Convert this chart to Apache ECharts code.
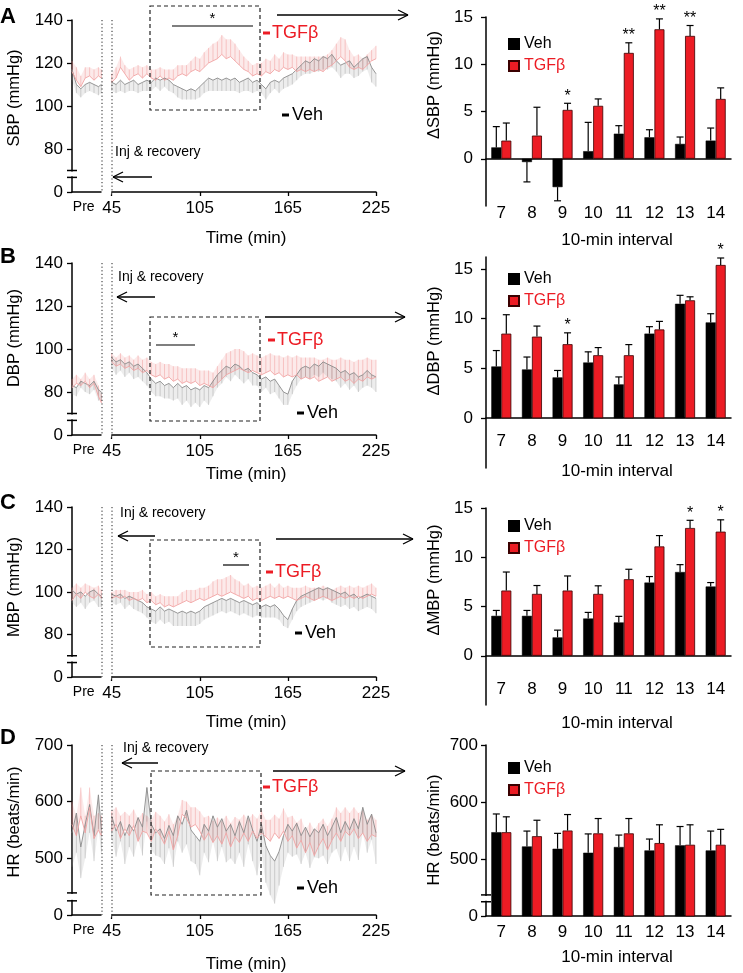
<!DOCTYPE html>
<html><head><meta charset="utf-8">
<script src="https://cdn.jsdelivr.net/npm/echarts@6/dist/echarts.min.js"></script>
<style>html,body{margin:0;padding:0;background:#fff}#c{width:743px;height:973px}</style>
</head><body><div id="c"></div>
<script>
// ---------- DATA ----------
const intervals = ['7','8','9','10','11','12','13','14'];
const preTimes = [18,21,24,27,30,33,36,38];
const mainTimes = []; for (let t = 45; t <= 225; t += 3) mainTimes.push(t);
const timeTickLabels = ['Pre','45','105','165','225'];
const timeTickValues = [26,45,105,165,225];

// A: SBP
const sbpPreTgf = [116,112,109,113,114,112,114,113];
const sbpPreTgfSem = [5,6,5,5,4,5,4,4];
const sbpPreVeh = [117,110,108,110,111,110,109,110];
const sbpPreVehSem = [5,4,4,4,4,4,4,4];
const sbpTgf = [111,113,118,115,112,114,115,113,115,113,112,114,112,113,112,114,115,114,116,117,116,118,120,121,122,124,122,123,121,119,117,116,114,115,114,116,115,117,116,118,117,118,116,117,116,117,116,117,116,118,119,121,123,121,118,117,118,117,119,121,122];
const sbpTgfSem = [4,5,5,4,5,4,4,5,4,4,5,4,5,4,5,5,4,5,5,6,6,7,7,8,8,9,9,8,8,7,6,5,5,5,6,6,6,7,6,7,7,6,7,6,7,6,7,6,7,6,7,8,9,10,8,6,6,5,5,5,6];
const sbpVeh = [111,110,112,110,111,112,110,111,112,111,113,112,113,112,110,109,108,107,108,107,109,111,113,112,113,112,113,112,113,111,112,113,111,112,110,108,111,112,111,113,114,115,117,119,121,120,122,121,123,122,124,121,119,120,121,118,120,122,123,118,115];
const sbpVehSem = [4,4,5,4,4,5,4,4,5,4,4,5,4,5,4,5,5,4,5,4,5,5,6,5,6,5,6,5,6,5,5,6,5,5,4,5,5,4,5,5,5,5,5,5,6,5,6,5,6,5,6,5,6,5,6,5,6,6,6,7,6];
const dSbpVeh = [1.2,-0.35,-3.0,0.8,2.65,2.27,1.57,1.92];
const dSbpVehSem = [2.2,2.1,1.45,3.05,0.85,0.8,0.73,1.33];
const dSbpTgf = [1.92,2.45,5.17,5.6,11.2,13.7,13.0,6.33];
const dSbpTgfSem = [1.86,3.0,0.7,0.73,1.07,1.1,1.1,1.17];
const dSbpStars = ['','','*','','**','**','**',''];

// B: DBP
const dbpPreTgf = [82,84,83,85,82,84,78,75];
const dbpPreTgfSem = [4,4,3,4,4,4,5,4];
const dbpPreVeh = [83,82,85,84,83,85,81,80];
const dbpPreVehSem = [4,4,3,4,4,4,5,4];
const dbpTgf = [94,92,93,91,92,90,91,89,90,88,87,88,86,87,85,86,84,85,84,85,83,84,83,82,84,86,88,89,90,91,90,89,90,89,88,89,90,88,89,87,88,87,88,86,87,86,87,85,86,87,85,86,87,85,86,84,86,85,87,86,87];
const dbpTgfSem = [4,4,5,5,5,5,6,6,6,6,6,6,7,6,7,6,7,6,7,6,7,6,7,7,8,9,10,10,10,9,9,8,8,8,8,8,8,9,8,9,9,9,9,10,9,10,9,10,9,9,10,9,9,10,9,10,9,10,9,9,8];
const dbpVeh = [96,94,95,93,94,92,93,91,89,86,84,85,83,84,82,84,82,83,81,82,81,83,82,85,88,90,92,91,93,92,90,91,89,88,86,87,85,86,83,80,79,85,88,91,92,91,93,92,94,93,92,91,89,90,88,89,87,88,90,88,87];
const dbpVehSem = [5,6,5,6,5,6,6,6,6,6,6,7,6,7,6,7,8,7,8,7,8,7,8,7,6,6,5,6,5,6,6,5,6,5,6,5,6,6,6,6,5,6,5,5,5,5,5,5,5,6,6,6,7,6,7,6,7,6,7,6,7];
const dDbpVeh = [5.2,4.9,4.1,5.6,3.4,8.5,11.5,9.63];
const dDbpVehSem = [1.6,1.25,0.7,1.07,0.75,0.7,0.85,0.87];
const dDbpTgf = [8.5,8.2,7.44,6.33,6.33,8.92,11.85,15.4];
const dDbpTgfSem = [1.9,1.06,1.14,0.77,1.07,0.81,0.35,0.7];
const dDbpStars = ['','','*','','','','','*'];

// C: MBP
const mbpPreTgf = [96,99,97,100,98,97,99,97];
const mbpPreTgfSem = [6,5,5,4,5,5,4,4];
const mbpPreVeh = [101,99,100,98,100,101,99,98];
const mbpPreVehSem = [6,6,5,6,5,5,6,5];
const mbpTgf = [97,98,97,98,96,97,96,97,95,96,94,95,93,94,93,94,95,96,95,96,97,96,97,98,99,98,99,100,99,98,97,98,96,97,96,97,98,97,98,97,98,97,96,97,98,97,96,97,98,97,96,97,98,97,98,97,98,97,98,99,98];
const mbpTgfSem = [3,3,4,3,4,3,4,4,4,4,4,4,5,4,5,4,5,5,6,5,5,6,6,7,7,8,8,8,7,7,6,6,6,6,6,6,6,5,6,5,5,5,6,5,5,5,6,5,5,5,5,5,5,5,5,5,5,5,5,5,4];
const mbpVeh = [99,98,99,97,98,97,96,95,93,92,91,93,91,92,91,90,91,90,91,90,91,93,94,95,96,97,96,97,96,95,96,95,94,95,93,94,93,94,92,89,87,92,96,98,99,100,101,102,101,102,101,100,99,100,98,99,97,98,99,98,97];
const mbpVehSem = [4,4,4,5,4,5,5,5,5,6,6,6,6,6,7,6,7,6,7,6,6,6,6,6,6,6,6,6,6,6,6,6,6,6,5,6,5,6,5,5,4,5,5,5,5,5,5,5,5,5,6,6,6,6,6,6,6,6,6,6,7];
const dMbpVeh = [4.05,4.05,1.86,3.78,3.38,7.43,8.5,7.03];
const dMbpVehSem = [0.55,0.55,0.74,0.62,0.62,0.61,0.75,0.4];
const dMbpTgf = [6.62,6.28,6.62,6.28,7.77,11.1,12.97,12.6];
const dMbpTgfSem = [1.88,0.85,1.48,0.82,1.01,1.1,0.78,1.2];
const dMbpStars = ['','','','','','','*','*'];

// D: HR
const hrPreTgf = [560,540,575,545,590,535,550,540];
const hrPreTgfSem = [40,35,50,30,35,40,30,35];
const hrPreVeh = [545,580,520,560,595,540,612,550];
const hrPreVehSem = [60,70,55,60,50,45,60,40];
const hrTgf = [548,560,535,552,540,558,530,548,545,530,552,540,525,548,515,540,578,570,555,560,548,532,545,528,540,525,545,520,538,528,545,530,548,535,545,538,530,545,535,548,530,540,518,532,510,528,505,522,535,515,532,545,530,548,540,552,535,545,530,542,538];
const hrTgfSem = [35,30,40,30,35,28,40,32,30,38,30,35,40,30,45,35,25,30,35,30,35,40,30,38,32,40,30,42,35,40,32,38,30,35,40,30,38,32,35,40,42,35,45,38,40,35,45,40,35,42,38,45,50,42,40,38,45,40,38,35,30];
const hrVeh = [575,548,565,540,560,548,572,555,625,560,545,552,535,558,540,575,560,585,550,540,530,560,548,575,555,570,548,560,540,565,545,575,550,530,560,522,505,495,512,540,560,548,562,540,555,538,552,545,560,540,555,572,545,565,550,570,552,590,560,578,545];
const hrVehSem = [40,45,35,50,40,45,38,50,60,45,40,50,45,40,55,45,50,60,55,50,60,50,55,45,60,50,55,60,50,55,60,50,55,60,50,65,70,75,60,55,50,45,55,50,45,55,50,45,55,50,45,55,50,45,55,50,55,45,50,45,55];
const dHrVeh = [547,522,518,511,521,515,524,515];
const dHrVehSem = [32,27,27,33,21,20,33,34];
const dHrTgf = [547,540,550,545,545,528,525,525];
const dHrTgfSem = [27,28,28,26,26,32,35,27];
const dHrStars = ['','','','','','','',''];

// ---------- STYLE / LAYOUT ----------
const FONT = '"Liberation Sans", Arial, Helvetica, sans-serif';
const RED = '#ec1c24';
const panels = [
 {letter:'A', yName:'SBP (mmHg)', dName:'\u0394SBP (mmHg)',
  preTgf:sbpPreTgf, preTgfSem:sbpPreTgfSem, preVeh:sbpPreVeh, preVehSem:sbpPreVehSem,
  tgf:sbpTgf, tgfSem:sbpTgfSem, veh:sbpVeh, vehSem:sbpVehSem,
  bVeh:dSbpVeh, bVehSem:dSbpVehSem, bTgf:dSbpTgf, bTgfSem:dSbpTgfSem, stars:dSbpStars,
  lMin:60, lMax:140, lInt:20, lTop:20, lH:172, brk:[70,66.8],
  rMin:-5, rMax:15, rTicks:[0,5,10,15], rTop:17, rH:189, rXMargin:-1, rYMargin:13,
  box:[150,6,260,110], sig:{x1:172,x2:253,y:26}, arrowR:{x1:277,x2:408,y:15},
  tgfLab:[263,33], vehLab:[282,115], inj:[115,152], arrowL:{x1:152,x2:113,y:177},
  letterY:17, yNameY:98, dNameY:85, timeY:238, intY:240, legTop:31, brkR:null},
 {letter:'B', yName:'DBP (mmHg)', dName:'\u0394DBP (mmHg)',
  preTgf:dbpPreTgf, preTgfSem:dbpPreTgfSem, preVeh:dbpPreVeh, preVehSem:dbpPreVehSem,
  tgf:dbpTgf, tgfSem:dbpTgfSem, veh:dbpVeh, vehSem:dbpVehSem,
  bVeh:dDbpVeh, bVehSem:dDbpVehSem, bTgf:dDbpTgf, bTgfSem:dDbpTgfSem, stars:dDbpStars,
  lMin:60, lMax:140, lInt:20, lTop:263, lH:172, brk:[70,66.8],
  rMin:-5, rMax:16.2, rTicks:[0,5,10,15], rTop:257, rH:211, rXMargin:-35, rYMargin:13,
  box:[150,317,260,421], sig:{x1:156,x2:195,y:345}, arrowR:{x1:265,x2:405,y:317},
  tgfLab:[268,340], vehLab:[297,413], inj:[118,277], arrowL:{x1:155,x2:117,y:297},
  letterY:257, yNameY:338, dNameY:341, timeY:474, intY:471, legTop:266, brkR:null},
 {letter:'C', yName:'MBP (mmHg)', dName:'\u0394MBP (mmHg)',
  preTgf:mbpPreTgf, preTgfSem:mbpPreTgfSem, preVeh:mbpPreVeh, preVehSem:mbpPreVehSem,
  tgf:mbpTgf, tgfSem:mbpTgfSem, veh:mbpVeh, vehSem:mbpVehSem,
  bVeh:dMbpVeh, bVehSem:dMbpVehSem, bTgf:dMbpTgf, bTgfSem:dMbpTgfSem, stars:dMbpStars,
  lMin:60, lMax:140, lInt:20, lTop:507, lH:170, brk:[70,66.8],
  rMin:-5, rMax:15, rTicks:[0,5,10,15], rTop:508, rH:197, rXMargin:-24, rYMargin:13,
  box:[150,540,260,647], sig:{x1:223,x2:249,y:565}, arrowR:{x1:276,x2:413,y:539},
  tgfLab:[266,572], vehLab:[295,633], inj:[120,513], arrowL:{x1:155,x2:118,y:536},
  letterY:503, yNameY:587, dNameY:580, timeY:722, intY:723, legTop:513, brkR:null},
 {letter:'D', yName:'HR (beats/min)', dName:'HR (beats/min)',
  preTgf:hrPreTgf, preTgfSem:hrPreTgfSem, preVeh:hrPreVeh, preVehSem:hrPreVehSem,
  tgf:hrTgf, tgfSem:hrTgfSem, veh:hrVeh, vehSem:hrVehSem,
  bVeh:dHrVeh, bVehSem:dHrVehSem, bTgf:dHrTgf, bTgfSem:dHrTgfSem, stars:dHrStars,
  lMin:400, lMax:700, lInt:100, lTop:745, lH:170, brk:[439,425],
  rMin:400, rMax:700, rTicks:[400,500,600,700], rTop:745, rH:171, rXMargin:8, rYMargin:8,
  box:[151,771,261,895], sig:null, arrowR:{x1:273,x2:405,y:771},
  tgfLab:[263,787], vehLab:[297,888], inj:[123,748], arrowL:{x1:158,x2:122,y:763},
  letterY:738, yNameY:822, dNameY:830, timeY:964, intY:957, legTop:755, brkR:[437,425]}
];

const LX = 72, LW = 304, RX = 486, RW = 245;

// ---------- BUILD ----------
const grids = [], xAxes = [], yAxes = [], series = [], G = [], legends = [];

function txt(x, y, s, o) {
  o = o || {};
  G.push({type:'text', x:x, y:y, z:10, rotation:o.rot || 0, silent:true,
    style:{text:s, fontSize:o.size || 17, fontFamily:FONT, fontWeight:o.weight || 'normal',
      fill:o.color || '#000', align:o.align || 'center', verticalAlign:'middle'}});
}
function ln(x1, y1, x2, y2, o) {
  o = o || {};
  G.push({type:'line', z:o.z || 10, silent:true, shape:{x1:x1,y1:y1,x2:x2,y2:y2},
    style:{stroke:o.color || '#000', lineWidth:o.w || 1, lineDash:o.dash || null}});
}
function rect(x, y, w, h, o) {
  o = o || {};
  G.push({type:'rect', z:o.z || 10, silent:true, shape:{x:x,y:y,width:w,height:h},
    style:{fill:o.fill || 'none', stroke:o.stroke || null, lineWidth:o.w || 1, lineDash:o.dash || null}});
}
function arrow(x1, x2, y) {
  ln(x1, y, x2, y, {w:1.3});
  const s = x2 > x1 ? 1 : -1;
  ln(x2, y, x2 - s * 10, y - 5, {w:1.3});
  ln(x2, y, x2 - s * 10, y + 5, {w:1.3});
}

function bandSeries(ai, times, means, sems, dir, fill, stroke) {
  const n = Math.min(times.length, means.length, sems.length);
  const data = [];
  for (let i = 0; i < n; i++) data.push([times[i], means[i], sems[i]]);
  return {type:'custom', xAxisIndex:ai, yAxisIndex:ai, silent:true, z:2, data:data, encode:{x:0, y:1},
    renderItem: function (params, api) {
      const i = params.dataIndex;
      const d = data[i];
      const p0 = api.coord([d[0], d[1]]);
      const q0 = api.coord([d[0], d[1] + dir * d[2]]);
      const ch = [];
      if (i < n - 1 && data[i + 1][0] - d[0] <= 3) {
        const e = data[i + 1];
        const p1 = api.coord([e[0], e[1]]);
        const q1 = api.coord([e[0], e[1] + dir * e[2]]);
        ch.push({type:'polygon', shape:{points:[p0, p1, q1, q0]}, style:{fill:fill}});
      }
      ch.push({type:'line', shape:{x1:p0[0], y1:p0[1], x2:q0[0], y2:q0[1]}, style:{stroke:stroke, lineWidth:1}});
      return {type:'group', children:ch};
    }};
}
function lineSeries(ai, times, means, color, w) {
  const data = means.map((v, i) => [times[i], v]);
  return {type:'line', xAxisIndex:ai, yAxisIndex:ai, data:data, symbol:'none', silent:true, z:3,
    lineStyle:{color:color, width:w}};
}
function errSeries(ai, vals, sems, off) {
  const data = vals.map((v, i) => [i, v, sems[i]]);
  return {type:'custom', xAxisIndex:ai, yAxisIndex:ai, silent:true, z:4, data:data, encode:{x:0, y:1},
    renderItem: function (params, api) {
      const d = data[params.dataIndex];
      const end = d[1] + (d[1] < 0 ? -d[2] : d[2]);
      const a = api.coord([d[0], d[1]]);
      const b = api.coord([d[0], end]);
      const x = a[0] + off;
      return {type:'group', children:[
        {type:'line', shape:{x1:x, y1:a[1], x2:x, y2:b[1]}, style:{stroke:'#000', lineWidth:1.2}},
        {type:'line', shape:{x1:x - 3.5, y1:b[1], x2:x + 3.5, y2:b[1]}, style:{stroke:'#000', lineWidth:1.2}}
      ]};
    }};
}
function starSeries(ai, tgf, sems, stars) {
  const data = [], labels = [];
  stars.forEach((s, i) => { if (s) { data.push([i, tgf[i] + sems[i]]); labels.push(s); } });
  return {type:'custom', xAxisIndex:ai, yAxisIndex:ai, silent:true, z:4, data:data, encode:{x:0, y:1},
    renderItem: function (params, api) {
      const d = data[params.dataIndex];
      const c = api.coord([d[0], d[1]]);
      return {type:'text', x:c[0] + 5, y:c[1] - 7,
        style:{text:labels[params.dataIndex], fontSize:16, fontFamily:FONT, fill:'#000', align:'center', verticalAlign:'middle'}};
    }};
}

panels.forEach((p) => {
  const li = grids.length, ri = li + 1;
  grids.push({left:LX, top:p.lTop, width:LW, height:p.lH});
  grids.push({left:RX, top:p.rTop, width:RW, height:p.rH});
  // left axes
  xAxes.push({gridIndex:li, type:'value', min:18, max:225,
    axisLine:{lineStyle:{color:'#000', width:1.5}},
    axisTick:{customValues:[45,105,165,225], length:4, lineStyle:{color:'#000', width:1.3}},
    axisLabel:{customValues:timeTickValues, margin:8, fontSize:17, fontFamily:FONT, color:'#000',
      formatter:(v) => { const k = timeTickValues.indexOf(v); const s = k >= 0 ? timeTickLabels[k] : String(v); return s === 'Pre' ? '{p|Pre}' : s; },
      rich:{p:{fontSize:14, fontFamily:FONT, color:'#000'}}},
    splitLine:{show:false}});
  yAxes.push({gridIndex:li, type:'value', min:p.lMin, max:p.lMax, interval:p.lInt,
    axisLine:{show:true, lineStyle:{color:'#000', width:1.5}},
    axisTick:{show:true, length:5, lineStyle:{color:'#000', width:1.3}},
    axisLabel:{margin:9, fontSize:17, fontFamily:FONT, color:'#000', formatter:(v) => v === p.lMin ? '0' : String(v)},
    splitLine:{show:false}});
  // right axes
  xAxes.push({gridIndex:ri, type:'category', data:intervals,
    axisLine:{onZero:true, lineStyle:{color:'#000', width:1.5}},
    axisTick:{show:false},
    axisLabel:{margin:p.rXMargin, fontSize:17, fontFamily:FONT, color:'#000', interval:0},
    splitLine:{show:false}});
  yAxes.push({gridIndex:ri, type:'value', min:p.rMin, max:p.rMax,
    axisLine:{show:true, lineStyle:{color:'#000', width:1.5}},
    axisTick:{show:true, length:5, customValues:p.rTicks, lineStyle:{color:'#000', width:1.3}},
    axisLabel:{customValues:p.rTicks, margin:p.rYMargin, fontSize:17, fontFamily:FONT, color:'#000',
      formatter:(v) => (p.rMin === 400 && v === 400) ? '0' : String(v)},
    splitLine:{show:false}});

  // left traces
  const tT = preTimes.concat(mainTimes);
  series.push(bandSeries(li, tT, p.preTgf.concat(p.tgf), p.preTgfSem.concat(p.tgfSem), 1, 'rgba(240,150,150,0.2)', 'rgba(236,130,130,0.38)'));
  series.push(bandSeries(li, tT, p.preVeh.concat(p.veh), p.preVehSem.concat(p.vehSem), -1, 'rgba(150,150,150,0.17)', 'rgba(130,130,130,0.32)'));
  series.push(lineSeries(li, preTimes, p.preVeh, '#8a8a8a', 0.9));
  series.push(lineSeries(li, mainTimes, p.veh, '#8a8a8a', 0.9));
  series.push(lineSeries(li, preTimes, p.preTgf, '#f2a4a4', 0.9));
  series.push(lineSeries(li, mainTimes, p.tgf, '#f2a4a4', 0.9));

  // right bars
  series.push({type:'bar', name:'Veh', xAxisIndex:ri, yAxisIndex:ri, data:p.bVeh, barWidth:10, barGap:'0%', z:2,
    itemStyle:{color:'#000', borderColor:'#000', borderWidth:0.5}});
  series.push({type:'bar', name:'TGF\u03b2', xAxisIndex:ri, yAxisIndex:ri, data:p.bTgf, barWidth:10, barGap:'0%', z:2,
    itemStyle:{color:RED, borderColor:'#3a0000', borderWidth:0.8}});
  series.push(errSeries(ri, p.bVeh, p.bVehSem, -5));
  series.push(errSeries(ri, p.bTgf, p.bTgfSem, 5));
  series.push(starSeries(ri, p.bTgf, p.bTgfSem, p.stars));

  legends.push({left:503, top:p.legTop, orient:'vertical', itemWidth:10, itemHeight:10, itemGap:6,
    icon:'rect', selectedMode:false,
    textStyle:{fontSize:16, fontFamily:FONT, lineHeight:14},
    data:[{name:'Veh', textStyle:{color:'#000'}}, {name:'TGF\u03b2', textStyle:{color:RED}}]});

  // ---- annotations ----
  const bottom = p.lTop + p.lH;
  const yPix = (v) => p.lTop + (p.lMax - v) / (p.lMax - p.lMin) * p.lH;
  ln(102, p.lTop, 102, bottom, {dash:[1.2, 2.4], color:'#222'});
  ln(112, p.lTop, 112, bottom, {dash:[1.2, 2.4], color:'#222'});
  rect(101.5, bottom - 2.5, 9.8, 5, {fill:'#fff', z:1});
  const b1 = yPix(p.brk[0]), b2 = yPix(p.brk[1]);
  rect(LX - 3, b1 + 1, 6, b2 - b1 - 2, {fill:'#fff', z:1});
  ln(LX - 5, b1, LX + 5, b1, {w:1.5});
  ln(LX - 5, b2, LX + 5, b2, {w:1.5});
  if (p.brkR) {
    const rPix = (v) => p.rTop + (p.rMax - v) / (p.rMax - p.rMin) * p.rH;
    const c1 = rPix(p.brkR[0]), c2 = rPix(p.brkR[1]);
    rect(RX - 3, c1 + 1, 6, c2 - c1 - 2, {fill:'#fff', z:1});
    ln(RX - 5, c1, RX + 5, c1, {w:1.5});
    ln(RX - 5, c2, RX + 5, c2, {w:1.5});
  }
  rect(p.box[0], p.box[1], p.box[2] - p.box[0], p.box[3] - p.box[1], {stroke:'#222', dash:[4, 3], w:1.2});
  if (p.sig) {
    ln(p.sig.x1, p.sig.y, p.sig.x2, p.sig.y, {w:1.2});
    txt((p.sig.x1 + p.sig.x2) / 2, p.sig.y - 7, '*', {size:15});
  }
  arrow(p.arrowR.x1, p.arrowR.x2, p.arrowR.y);
  arrow(p.arrowL.x1, p.arrowL.x2, p.arrowL.y);
  txt(p.inj[0], p.inj[1], 'Inj & recovery', {size:14, align:'left'});
  rect(p.tgfLab[0], p.tgfLab[1] - 1.5, 7, 3, {fill:RED});
  txt(p.tgfLab[0] + 9, p.tgfLab[1], 'TGF\u03b2', {size:18, color:RED, align:'left'});
  rect(p.vehLab[0], p.vehLab[1] - 1.5, 7, 3, {fill:'#000'});
  txt(p.vehLab[0] + 10, p.vehLab[1], 'Veh', {size:18, align:'left'});
  txt(8, p.letterY, p.letter, {size:22, weight:'bold'});
  txt(14, p.yNameY, p.yName, {size:16.5, rot:Math.PI / 2});
  txt(434, p.dNameY, p.dName, {size:16.5, rot:Math.PI / 2});
  txt(246, p.timeY, 'Time (min)', {size:17});
  txt(617, p.intY, '10-min interval', {size:17});
});

const chart = echarts.init(document.getElementById('c'), null, {renderer:'canvas'});
chart.setOption({
  animation:false,
  backgroundColor:'#fff',
  textStyle:{fontFamily:FONT},
  grid:grids, xAxis:xAxes, yAxis:yAxes, series:series, legend:legends,
  graphic:{elements:G}
});
</script></body></html>
